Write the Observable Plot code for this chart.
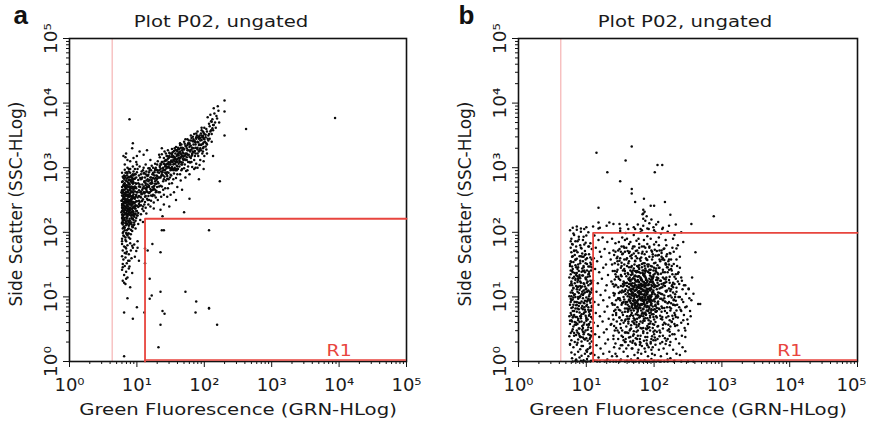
<!DOCTYPE html>
<html><head><meta charset="utf-8">
<script src="https://cdn.jsdelivr.net/npm/d3@7"></script>
<script src="https://cdn.jsdelivr.net/npm/@observablehq/plot@0.6"></script>
<style>
body{margin:0;background:#fff;}
#wrap{position:relative;width:871px;height:424px;overflow:hidden;}
.panel{position:absolute;top:0;}
</style></head><body><div id="wrap"></div>
<script>
// ---- axis ticks ----
const decades = [1, 10, 100, 1000, 10000, 100000];
const decadeLabels = ["10⁰", "10¹", "10²", "10³", "10⁴", "10⁵"];
const minorMultipliers = [2, 3, 4, 5, 6, 7, 8, 9];

// ---- panel texts ----
const panelLetters = ["a", "b"];
const panelTitles = ["Plot P02, ungated", "Plot P02, ungated"];
const xLabel = "Green Fluorescence (GRN-HLog)";
const yLabel = "Side Scatter (SSC-HLog)";

// ---- gates / markers (data units) ----
const markerX = [4.3, 4.2];        // pale pink vertical marker
const gateX = [13.2, 12.6];        // R1 gate left edge
const gateY = [162, 98];           // R1 gate top edge
const gateNames = ["R1", "R1"];

// ---- events: "log10(x)*100,log10(y)*100" ----
const aDense = `
78,190 80,201 83,188 79,212 86,195 91,204 84,217 80,226 88,210 93,221 78,233 82,240 87,229 90,238 95,247 79,251 85,246 81,259 89,255 92,263 78,270 84,268 87,277 80,284 91,279 94,290 83,292 79,206 82,219 86,224 89,231 93,236 78,244 81,252 84,257 87,262 90,270 94,275 79,279 82,287 86,291 91,286 95,294 80,195 85,203 88,198 92,212 95,219 78,222 81,231 86,236 89,243 92,249 94,256 78,261 82,266 85,273 88,281 93,284 80,273 83,280 87,285 90,292 78,186 81,194 84,199 87,205 90,214 93,227 95,232 79,238 83,245 88,250 91,256 94,262 78,265 81,246 84,238 86,213 89,221 92,226 95,240 80,215 85,221 88,228 79,225 82,234 86,243 90,249 93,255 95,266 80,262 83,270 86,266 89,274 92,271 78,278 81,283 85,288 88,294 84,186 88,192 91,197 94,208 79,199 82,207 85,214 78,214 80,238 83,228 87,240 91,243 94,233 80,247 82,255 86,252 90,260 93,268 79,256 84,262 87,270 90,281 94,279 81,275 85,279 88,286 92,288 78,292 82,297 86,300 90,298 94,302 83,192 87,198 90,190 93,202 95,211 79,220 81,222 84,230 87,236 91,230 93,246 78,249 80,257 83,251 86,258 89,265 92,277 95,282 79,286 83,285 88,270 90,266 94,270 78,238 81,241 85,233 89,236 92,241 95,253 79,263 82,271 85,262 88,258 91,251 94,246
96,215 99,222 102,230 105,219 108,236 111,243 114,229 118,250 121,257 125,246 128,262 97,240 100,248 103,256 106,263 109,251 112,268 116,274 119,262 123,270 127,279 130,287 96,268 99,275 102,281 105,270 108,285 111,292 114,280 117,289 121,296 124,284 128,300 98,290 101,298 104,302 107,294 110,300 113,305 117,299 122,303 126,293 129,275 96,227 100,233 104,241 107,248 110,233 113,256 116,262 120,240 124,258 127,266 130,270 97,252 101,262 105,284 108,274 112,247 115,270 119,281 122,265 126,272 129,288 98,206 102,213 106,228 109,216 113,238 117,243 121,249 125,237 128,254 97,283 100,293 104,274 107,260 111,279 114,294 118,270 121,285 124,292 127,296 99,258 103,265 106,242 110,262 113,273 116,250 120,276 123,256 126,283 130,296 96,245 98,237 101,226 103,249 105,255 108,266 110,271 112,285 115,288 118,293 122,278 125,268 129,281 97,298 100,305 103,288 107,283 111,260 114,266 117,256 120,267 123,290 126,257 129,264 98,270 102,276 106,290 109,296 113,290 116,282 119,296 124,300 127,306
131,250 134,262 137,271 140,258 143,280 146,268 149,285 152,276 155,291 158,284 161,298 164,290 167,305 170,299 132,276 135,285 138,293 141,286 144,299 147,292 150,305 153,298 156,310 159,303 162,315 165,309 168,318 133,296 136,305 139,300 142,311 145,306 148,316 151,310 154,318 157,322 160,314 163,324 166,320 169,330 131,310 134,316 137,321 140,315 143,322 146,327 149,322 152,329 155,326 158,332 161,328 164,335 132,262 136,255 139,279 142,268 145,283 148,275 151,288 154,282 157,296 160,290 163,302 166,296 169,312 133,285 137,290 141,296 144,290 147,302 150,296 153,309 156,300 159,312 162,306 165,316 168,308 134,303 138,309 142,302 146,314 149,308 153,316 157,313 161,321 164,315 167,327 135,272 139,266 143,292 147,282 151,297 155,306 159,296 163,309 167,298 131,293 135,298 140,306 144,311 148,300 152,320 156,316 160,325 165,322 169,322 133,320 137,330 141,325 145,318
171,305 174,312 177,320 180,315 183,325 186,318 189,330 192,325 195,335 198,330 201,340 204,336 172,320 175,327 178,332 181,328 184,336 187,331 190,340 193,336 196,343 199,339 202,347 173,295 176,302 179,308 182,301 185,312 188,306 191,318 194,312 197,322 200,318 203,328 172,334 176,338 180,342 184,344 188,347 192,348 196,350 200,352 171,313 174,322 178,317 182,320 186,326 190,322 194,330 198,325 202,333 205,345 175,296 181,309 187,300 193,304 199,310 204,322`;
const aCoreExtra = `
77,231 79,244 80,219 81,266 82,203 83,251 84,238 85,227 86,272 87,247 88,216 89,259 90,234 91,281 92,222 93,243 94,268 95,229 96,254 97,237 98,276 99,248 78,257 79,228 80,272 81,209 82,248 83,235 84,262 85,197 86,240 87,255 88,231 89,274 90,218 91,262 92,246 93,209 94,238 95,277 96,224 97,263 98,242 99,285 78,241 79,266 80,233 81,255 82,276 83,214 84,249 85,283 86,226 87,264 88,245 89,213 90,256 91,237 92,287 93,252 94,221 95,259 96,283 97,246 98,229 99,268 78,227 80,244 82,261 84,223 86,257 88,276 90,245 92,232 94,282 96,238 98,255 77,249 79,236 81,274 83,259 85,242 87,218 89,248 91,226 93,263 95,245 97,271 99,233 78,215 80,254 82,228 84,273 86,249 88,237 90,267 92,255 94,226 96,269 98,218 77,262 79,218 81,237 83,270 85,256 87,233 89,227 91,250 93,231 95,288 97,228 99,256 80,207 84,211 88,206 92,215 96,212 100,226 81,288 85,293 89,285 93,278 97,290 100,262
101,254 103,271 104,247 106,282 107,259 109,268 110,291 112,255 113,276 115,263 116,287 118,272 119,299 121,264 122,281 124,290 125,271 127,298 128,284 130,305 131,278 133,292 134,301 136,287 137,309 139,296 140,282 142,304 143,312 145,293 146,306 148,318 149,299 151,311 152,322 154,305 155,316 157,327 158,309 160,320 161,331 163,314 164,325 166,336 167,318 169,329 170,340 172,322 173,333 175,344 176,327 178,338 179,325 181,346 182,331 184,341 185,352 187,336 188,345 190,356 191,339 193,350 194,342 196,358 197,347 199,354
102,239 105,262 108,249 111,278 114,268 117,279 120,285 123,276 126,288 129,297 132,285 135,306 138,299 141,310 144,302 147,315 150,308 153,324 156,314 159,327 162,319 165,331 168,324 171,337 174,330 177,342 180,334 183,348 186,341 189,350 192,345 195,353 198,349
100,241 103,244 106,254 109,240 112,262 115,252 118,261 121,275 124,266 127,275 130,283 133,271 136,294 139,288 142,297 145,287 148,305 151,299 154,296 157,306 160,302 163,311 166,308 169,317 172,312 175,320 178,309 181,318 184,324 187,322 190,331 193,327 196,336 199,332
142,292 146,301 150,289 154,312 158,298 162,322 166,305 170,328 174,316 178,336 182,322 186,340 190,328 194,346 198,337 202,351 206,342 210,358 213,366 144,318 148,323 152,301 156,330 160,309 164,338 168,314 172,344 176,309 180,350 184,330 188,353 192,335 196,362 200,344 204,356 208,364 211,371 143,305 151,317 159,318 167,331 175,335 183,341 191,347 199,346 207,352 147,309 155,298 163,329 171,318 179,327 187,339 195,327 203,338`;
const aSparse = `
78,182 81,178 84,175 86,180 90,183 93,179 79,172 82,168 85,170 88,166 91,172 94,176 78,163 80,158 83,161 87,156 92,160 79,151 82,148 85,152 89,147 78,142 84,139 88,144 81,134 86,130 93,137 79,125 83,120 90,115 97,162 99,171 96,181 101,176
206,350 209,356 212,361 208,345 211,352 214,366 203,360 207,368 210,372 213,358 216,370 219,376 205,378 209,382 212,375 215,384 218,380 221,388 214,392 220,395 217,362 222,370 200,362 198,356 211,340
82,305 86,312 80,318 90,310 95,315 84,322 100,318 104,325 93,330 110,320 115,327 120,312 88,298 99,309
135,235 140,243 150,258 160,270 172,285 178,290 185,298 145,255 155,262 165,280 190,300 148,240 158,250 138,225
89,375 394,377 230,404 230,387 262,360 230,350 213,318 223,279 192,282 199,298 178,252 170,231 167,266 207,203 94,338 83,316 140,203 137,203 123,182 135,169 116,172 119,128 122,102 119,97 135,108 138,78 141,74 135,57 132,22 172,108 188,93 187,76 207,83 207,82 219,57 111,76 100,84 94,66 86,98 81,76 81,8 84,128 81,122 79,146 89,156 103,156 84,167 83,177 112,152 112,175 101,186`;

const bLeftColumn = `
76,203 81,198 86,204 92,201 97,205 103,200 78,190 84,186 89,193 95,188 100,195 106,183 80,181 91,180 99,184
77,176 82,172 87,169 93,175 98,171 104,166 108,174 79,162 84,158 90,163 95,155 101,160 106,153 76,151 81,154 88,150 94,167 99,152 103,178 85,178 78,169 96,162 108,158 83,165 91,152
76,148 80,143 85,146 89,140 94,144 98,138 103,147 107,141 77,135 82,131 86,137 91,129 95,133 100,127 105,132 109,125 78,124 83,121 88,126 92,122 97,120 102,124 106,120 75,130 80,138 84,128 90,134 96,146 101,141 104,136 79,147 87,123 93,139 99,130 108,146
76,118 81,114 85,117 90,111 94,116 99,112 103,118 108,113 77,107 82,103 87,108 91,101 96,105 100,99 105,104 109,98 78,95 83,92 88,97 93,93 97,90 102,95 106,91 75,101 79,110 84,100 89,106 95,98 101,108 104,101 107,107 80,96 86,92 92,114 98,94 103,110 77,92 87,115 96,110 106,96
76,88 80,84 85,87 89,81 94,86 98,80 103,84 107,79 77,75 82,72 86,77 91,70 96,74 100,68 105,73 109,66 78,64 83,61 88,66 93,62 97,60 102,65 106,61 75,70 80,78 84,69 90,76 95,81 101,88 104,77 79,62 87,82 99,71 108,86 92,67
76,58 81,54 85,57 90,51 94,55 99,48 103,53 108,47 77,44 82,40 87,45 91,38 96,42 100,36 105,41 78,33 83,30 88,34 93,31 97,35 102,32 106,37 80,50 86,48 95,46 101,57 75,39 89,43 104,58
76,27 81,22 86,26 91,19 95,24 100,17 105,21 78,14 83,11 88,15 93,9 98,12 103,8 108,13 79,5 85,3 90,6 96,2 101,4 107,1 80,0 87,0 94,0 99,0 106,0
79,182 84,157 88,129 93,104 97,76 102,49 106,23 77,141 81,113 86,88 90,61 95,37 99,166 104,139 108,111 78,83 83,57 87,29 92,176 96,148 101,122 105,94 80,68 85,41 89,189 94,133 98,107 103,80 107,52 76,26 82,171 87,143 91,117 96,91 100,63 105,35 78,154 84,126 88,100 93,73 97,45 102,19 106,161 77,97 81,70 86,159 90,131 95,103 99,77 104,57 108,31 79,118 83,92 88,64 92,38 97,181 101,151 106,125 80,106 85,134 89,86 94,49 98,165 103,97 107,69 78,72 82,44 87,186 91,156 96,121 100,86 105,28
77,186 80,163 83,137 86,112 89,91 92,70 95,52 98,34 101,15 104,178 107,150 78,121 81,99 84,82 87,58 90,40 93,24 96,193 99,158 102,131 105,108 108,84 76,63 79,47 82,196 85,172 88,146 91,124 94,108 97,84 100,66 103,42 106,12 77,155 80,129 83,104 86,69 89,51 92,163 95,140 98,116 101,93 104,71 107,40 78,101 81,88 84,149 87,132 90,99 93,83 96,57 99,128 102,109 105,147 108,122 79,140 82,78 85,60 88,116 91,90 94,162 97,141 100,113 103,135 106,79`;
const bBridge = `
112,195 118,188 124,192 131,185 138,190 143,183 114,176 120,170 127,174 134,168 140,172 111,160 116,155 122,162 129,150 136,158 142,152 113,143 119,138 125,145 132,134 139,140 144,131 110,125 117,121 123,128 130,118 137,124 141,116 115,108 121,103 128,110 134,99 140,106 112,92 118,88 125,95 131,85 138,90 143,80 114,75 120,70 127,77 133,66 139,72 111,60 117,55 124,62 130,50 136,57 142,48 113,42 119,38 126,45 132,34 140,40 115,25 121,20 128,28 134,15 141,22 112,10 118,6 125,12 131,3 138,8 144,0 116,0 127,0 135,0`;
const bCore = `
162,152 167,148 172,155 177,146 182,151 187,144 192,150 197,147 202,153 165,141 170,144 175,140 180,156 185,141 190,157 195,142 200,145 205,149
161,137 164,130 168,135 171,128 174,138 178,132 181,126 184,136 188,129 191,139 194,133 197,127 201,136 204,130 163,126 167,139 172,133 176,126 180,137 186,132 190,125 193,137 199,131 203,139
160,122 163,115 166,120 169,112 172,118 175,124 178,114 181,120 184,111 187,117 190,123 193,113 196,119 199,110 202,116 205,122 162,110 165,124 168,117 171,121 174,111 177,119 180,113 183,124 186,115 189,110 192,120 195,114 198,124 201,118 204,112 176,116 182,117 188,121
161,107 164,100 167,105 170,97 173,103 176,108 179,99 182,104 185,96 188,102 191,108 194,98 197,104 200,96 203,101 206,107 163,96 166,109 169,102 172,95 175,100 178,106 181,97 184,109 187,99 190,104 193,95 196,101 199,107 202,98 205,103 177,102 183,100 189,106 171,109
160,92 163,85 166,90 169,82 172,88 175,93 178,84 181,89 184,81 187,87 190,93 193,83 196,88 199,80 202,86 205,91 162,81 165,94 168,87 171,91 174,82 177,89 180,83 183,94 186,85 189,90 192,80 195,92 198,85 201,93 204,83 179,87 185,92 176,80
161,77 164,70 167,75 170,67 173,73 176,78 179,69 182,74 185,66 188,72 191,78 194,68 197,73 200,65 203,70 163,66 166,79 169,71 172,65 175,76 178,68 181,79 184,70 187,76 190,67 193,75 196,79 199,69 202,77
162,62 166,56 170,60 174,53 178,58 182,51 186,63 190,55 194,59 198,52 202,61 165,50 171,64 177,55 183,60 189,50 195,62 200,57
172,104 185,118 179,97 191,112 168,121 183,89 176,131 194,102 170,94 188,126 181,108 165,112 197,117 174,85 186,99 178,123 190,91 169,106 184,134 177,114 193,128 166,98 180,87 187,108 173,118 196,95 182,126 171,132 189,84 175,101 192,119 167,127 185,103 179,115 198,108 174,92 183,141 188,96 170,116 194,137 176,107 181,95 186,121 164,104 191,100 178,138 173,124 195,87 182,112 168,89 187,131 177,96 199,121 172,110 184,82 180,128 190,106 166,118 193,93 175,115 186,136 179,104 171,100 197,130 183,117 176,88 189,113 169,129 192,85 181,99 174,139 188,118 163,95 185,94 178,109 194,123 172,86 180,120 187,102 167,108 196,112 176,125`;
const bMid = `
152,64 158,121 163,37 149,98 171,150 166,72 177,168 184,44 191,139 198,58 205,117 212,83 219,146 226,61 231,104 156,143 161,88 168,29 174,112 181,161 187,67 194,96 201,173 208,39 215,128 222,92 229,151 154,116 159,54 165,163 172,83 179,26 186,132 193,176 199,73 206,101 213,142 220,48 227,119 233,79 150,79 157,170 163,104 170,47 176,139 183,95 190,182 196,35 203,126 210,66 217,109 224,167 230,42 151,134 155,33 162,59 168,137 175,66 182,178 188,51 195,148 202,88 209,155 216,36 223,131 229,96 235,124 153,91 160,148 167,112 173,171 180,62 186,105 193,53 200,119 207,82 214,174 221,57 228,88 234,148 149,156 158,45 164,127 171,58 178,149 185,74 191,118 198,162 205,54 211,97 218,68 225,112 232,135 152,107 157,77 163,155 169,94 176,40 183,137 189,158 196,81 203,144 210,125 217,152 224,79 230,58 155,124 161,171 167,84 174,57 181,128 188,141 194,71 201,37 208,113 215,60 222,158 228,107 150,58 156,96 162,135 169,178 175,91 182,146 189,33 195,126 202,164 209,71 216,93 223,46 231,87 154,167 160,70 166,146 173,36 179,159 185,123 192,64 199,141 206,89 213,51 220,138 226,99 153,48 159,132 166,51 172,126 179,71 186,152 192,96 199,46 205,137 212,115 219,84 225,143 232,69 151,145 157,109 164,82 170,167 177,132 184,63 190,150 197,39 204,78 211,162 218,123 224,30 233,114
141,102 147,131 153,76 159,158 164,93 169,141 174,61 179,118 184,152 189,79 194,110 199,134 204,68 209,97 214,121 219,75 224,109 229,88 146,84 151,117 157,63 162,128 167,102 172,156 177,82 182,97 187,139 192,58 197,123 202,86 207,145 212,104 217,92 222,126 227,71 143,119 149,68 155,108 160,82 166,134 171,115 176,95 181,71 186,118 191,147 196,90 201,104 206,129 211,77 216,138 221,101 226,117 232,94 145,139 150,95 156,122 161,66 165,111 170,79 175,148 180,106 185,89 190,125 195,76 200,152 205,99 210,114 215,83 220,146 225,90 230,131 144,72 148,106 154,141 158,89 163,120 168,62 173,132 178,101 183,76 188,110 193,142 198,94 203,117 208,81 213,130 218,108 223,64 228,122 142,127 152,88 158,104 163,146 168,113 173,91 178,143 183,119 188,73 193,101 198,129 203,77 208,106 213,95 218,150 223,84 147,97 157,136 167,86 177,124 187,95 197,107 207,119 217,127 152,153 162,78 172,140 182,88 192,112 202,141 212,69 222,113 155,92 165,125 175,85 185,110 195,99 205,126 215,102 160,117 170,102 180,130 190,86 200,115 210,136 150,126 176,72 186,148 196,131 206,93 216,117 161,101 171,89 181,113 191,97 201,81 211,120
138,150 143,170 148,45 152,178 157,30 163,182 168,20 174,187 179,35 185,178 190,25 196,172 201,48 207,180 212,30 218,163 223,40 229,170 234,56 238,145 140,65 145,160 151,25 156,176 162,44 167,165 173,26 178,176 184,52 189,170 195,28 200,181 206,55 211,168 217,27 222,150 228,66 233,158 237,84 240,130 139,88 144,52 149,174 154,38 160,160 165,31 171,178 176,48 182,167 187,38 193,162 198,22 204,171 209,45 215,157 220,35 226,141 231,72 236,100 240,78 142,140 147,150 153,166 158,30 164,170 169,40 175,160 180,29 186,166 191,52 197,170 202,33 208,158 213,57 219,166 224,54 230,120 235,136 241,96 244,118 246,84 243,64 139,120 141,78 137,58 140,35`;
const bHalo = `
146,162 151,170 156,158 159,176 148,185 153,192 158,199 163,168 168,175 173,163 178,182 183,170 188,160 193,178 198,166 203,185 208,172 213,160 218,180 223,168 228,190 233,175 238,162 243,185 150,202 160,190 170,196 180,200 190,194 200,203 210,198 220,201 230,196 240,200 155,178 165,185 175,172 185,188 195,190 205,164 215,175 225,158 235,180 162,205 172,205 182,203 192,205 202,200 212,205 177,190 187,176 197,158 207,192 217,188 227,176 147,172 157,188 167,160
141,165 146,155 152,148 157,140 143,135 148,128 154,120 158,112 142,105 147,98 153,90 157,82 144,75 149,68 155,60 141,55 146,48 152,40 158,35 143,28 149,20 155,15 145,8 151,3 157,0 146,142 152,132 156,118 144,118 150,108 155,100 142,88 148,80 154,72 158,65 145,62 151,52 157,45 147,35 153,25 159,20 143,12 149,0 156,150 150,160 144,95 158,92 153,110 147,115
207,165 212,158 217,150 222,142 227,135 232,128 237,120 242,112 247,105 252,98 208,145 213,138 218,130 223,122 228,115 233,108 238,100 243,92 248,85 253,78 209,125 214,118 219,110 224,102 229,95 234,88 239,80 244,72 249,65 210,105 215,98 220,90 225,82 230,75 235,68 240,60 245,52 211,85 216,78 221,70 226,62 231,55 236,48 241,40 212,65 217,58 222,50 227,42 232,35 237,28 208,48 213,40 218,32 223,25 228,18 233,12 209,28 214,20 219,12 224,5 229,0 210,8 215,0 220,3 206,135 211,172 216,122 221,155 226,148 231,100 236,138 241,125 246,118 251,112 255,95 254,70 250,58 246,38 242,22 238,10 256,130 258,105
160,45 165,38 170,42 175,35 180,40 185,32 190,38 195,30 200,42 205,35 162,25 167,20 172,28 177,18 182,24 187,15 192,22 197,12 202,26 207,18 161,8 166,3 171,10 176,5 181,12 186,2 191,8 196,4 201,10 206,1 163,0 168,0 173,0 178,0 183,0 188,0 193,0 198,0 203,0 208,0 164,48 174,46 184,47 194,48 204,46 169,32 179,30 189,28 199,33 176,14 186,20 196,18 180,52 190,44
112,1 120,0 130,1 140,0 150,1 160,1 170,0 180,1 190,0 200,1 210,0 220,0 230,1 240,0 250,0 258,0 84,1 92,1 102,0`;
const bSparse = `
184,210 187,218 189,225 186,232 190,206 193,214 196,220 183,228 180,205 199,208 203,212 176,212 170,208 160,212 150,206 140,213 130,210 120,207 110,209 100,208 92,206 86,209 80,207 206,216 213,207 222,210 232,212
167,333 115,323 158,311 205,304 212,304 131,293 201,293 150,279 167,267 167,260 185,252 172,247 195,241 200,241 216,247 118,238 184,235 224,227 288,225 255,213 134,215 149,213 118,215 118,206 261,169 251,113 265,89 268,89 246,48 246,16 184,221 184,229`;

const parseEvents = s => s.trim().split(/\s+/).map(p => {
  const [lx, ly] = p.split(",").map(Number);
  return {x: Math.pow(10, lx / 100), y: Math.pow(10, ly / 100)};
});
const panelEvents = [
  [aDense, aCoreExtra, aSparse].flatMap(parseEvents),
  [bLeftColumn, bBridge, bCore, bMid, bHalo, bSparse].flatMap(parseEvents)
];

const minorTicks = decades.slice(0, -1).flatMap(d => minorMultipliers.map(m => d * m));
const FONT = "DejaVu Sans, Verdana, sans-serif";
const RED = "#e8453e";
const INK = "#1a1a1a";

// layout of the two panels
const layout = [
  {left: 0, width: 435, marginRight: 29, titleDx: -17, letterDx: -56, lastTickDx: 0},
  {left: 449, width: 422, marginRight: 14, titleDx: -3, letterDx: -60, lastTickDx: -6}
];

// widen texts along their own baseline (the reference lettering is wide)
function widen(svg, content, sx) {
  svg.querySelectorAll("text").forEach(t => {
    if (t.textContent !== content) return;
    const tr = t.getAttribute("transform");
    if (tr) { t.setAttribute("transform", tr + ` scale(${sx},1)`); return; }
    const x = parseFloat(t.getAttribute("x")) || 0;
    t.removeAttribute("x");
    t.setAttribute("transform", `translate(${x},0) scale(${sx},1)`);
  });
}

const wrap = document.getElementById("wrap");
[0, 1].forEach(i => {
  const L = layout[i];
  const gatePath = [{x: gateX[i], y: 1}, {x: gateX[i], y: gateY[i]}, {x: 100000, y: gateY[i]}];
  const xTickText = {x: d => d, text: d => decadeLabels[decades.indexOf(d)], frameAnchor: "bottom", dy: 17, lineAnchor: "top", fontSize: 17, fill: INK};
  const chart = Plot.plot({
    width: L.width, height: 424,
    marginLeft: 69, marginRight: L.marginRight, marginTop: 38, marginBottom: 63,
    x: {type: "log", domain: [1, 100000]},
    y: {type: "log", domain: [1, 100000]},
    style: {fontFamily: FONT, fontSize: "17px", color: INK, background: "transparent", overflow: "visible"},
    marks: [
      Plot.ruleX([markerX[i]], {stroke: "#f6b9b9", strokeWidth: 1.3}),
      Plot.dot(panelEvents[i], {x: "x", y: "y", r: 1.25, fill: "#0a0a0a", stroke: null}),
      Plot.frame({stroke: "#111", strokeWidth: 1.6}),
      Plot.line(gatePath, {x: "x", y: "y", stroke: RED, strokeWidth: 1.8}),
      Plot.ruleY([1], {x1: () => gateX[i], x2: () => 100000, stroke: RED, strokeWidth: 1.5, dy: -1.5}),
      Plot.text([gateNames[i]], {x: () => 10000, y: () => 1, text: d => d, dy: -6, lineAnchor: "bottom", fill: RED, fontSize: 16}),
      Plot.axisX({ticks: decades, tickSize: 6, tickFormat: () => "", label: null, stroke: "#111"}),
      Plot.axisX({ticks: minorTicks, tickSize: 3, tickFormat: () => "", label: null, stroke: "#111"}),
      Plot.axisY({ticks: minorTicks, tickSize: 3, tickFormat: () => "", label: null, stroke: "#111"}),
      Plot.axisY({ticks: decades, tickSize: 6, tickFormat: () => "", label: null, stroke: "#111"}),
      Plot.text(decades.slice(0, -1), xTickText),
      Plot.text(decades.slice(-1), {...xTickText, dx: L.lastTickDx}),
      Plot.text(decades, {y: d => d, text: d => decadeLabels[decades.indexOf(d)], frameAnchor: "left", dx: -13, rotate: -90, textAnchor: "middle", lineAnchor: "bottom", fontSize: 17.5, fill: INK}),
      Plot.text([xLabel], {text: d => d, frameAnchor: "bottom", dy: 53, lineAnchor: "bottom", fontSize: 16, fill: INK}),
      Plot.text([yLabel], {text: d => d, frameAnchor: "left", rotate: -90, dx: -48, dy: 4, lineAnchor: "bottom", textAnchor: "middle", fontSize: 17, fill: INK}),
      Plot.text([panelTitles[i]], {text: d => d, frameAnchor: "top", dx: L.titleDx, dy: -12, lineAnchor: "bottom", fontSize: 16, fill: INK}),
      Plot.text([panelLetters[i]], {text: d => d, frameAnchor: "top-left", dx: L.letterDx, dy: -15, lineAnchor: "bottom", textAnchor: "start", fontWeight: "bold", fontSize: 26, fontFamily: "Liberation Sans, Arial, sans-serif", fill: "#111"})
    ]
  });
  widen(chart, xLabel, 1.23);
  widen(chart, panelTitles[i], 1.23);
  widen(chart, gateNames[i], 1.18);
  decadeLabels.forEach(lbl => widen(chart, lbl, 1.06));
  const div = document.createElement("div");
  div.className = "panel";
  div.style.left = L.left + "px";
  div.style.width = L.width + "px";
  div.appendChild(chart);
  wrap.appendChild(div);
});
</script>
</body></html>
